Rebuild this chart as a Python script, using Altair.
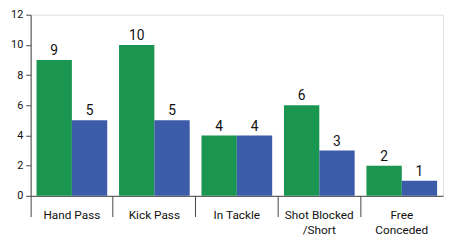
import altair as alt
import pandas as pd

categories = ["Hand Pass", "Kick Pass", "In Tackle", "Shot Blocked|/Short", "Free|Conceded"]
series_names = ["A", "B"]
green_values = [9, 10, 4, 6, 2]
blue_values = [5, 5, 4, 3, 1]
y_ticks = [0, 2, 4, 6, 8, 10, 12]

rows = []
for c, g, b in zip(categories, green_values, blue_values):
    rows.append({"cat": c, "series": "A", "value": g})
    rows.append({"cat": c, "series": "B", "value": b})
df = pd.DataFrame(rows)

FONT = "Roboto"

x = alt.X(
    "cat:N",
    sort=categories,
    title=None,
    scale=alt.Scale(paddingInner=0, paddingOuter=0),
    axis=alt.Axis(
        labelExpr="split(datum.value, '|')",
        labelAngle=0,
        bandPosition=0,
        tickSize=21,
        tickColor="#444444",
        domainColor="#444444",
        labelPadding=-7,
        labelFont=FONT,
        labelFontSize=12,
        labelColor="#111111",
        labelLineHeight=15,
    ),
)
xoff = alt.XOffset("series:N", sort=series_names, scale=alt.Scale(paddingInner=0, paddingOuter=0.167))
y = alt.Y(
    "value:Q",
    title=None,
    scale=alt.Scale(domain=[0, 12], nice=False),
    axis=alt.Axis(
        values=y_ticks,
        grid=False,
        tickSize=5,
        tickColor="#444444",
        domainColor="#444444",
        labelFont=FONT,
        labelFontSize=11,
        labelColor="#111111",
        labelPadding=3,
    ),
)
color = alt.Color(
    "series:N",
    scale=alt.Scale(domain=series_names, range=["#1a9651", "#3c5ba8"]),
    legend=None,
)

bars = alt.Chart(df).mark_bar().encode(x=x, xOffset=xoff, y=y, color=color)
labels = alt.Chart(df).mark_text(dy=-9, font=FONT, fontSize=14, color="#111111").encode(
    x=x, xOffset=xoff, y=y, text="value:Q"
)

chart = (
    alt.layer(bars, labels)
    .properties(
        width=419,
        height=184,
        autosize=alt.AutoSizeParams(type="none"),
        padding={"left": 23, "top": 5, "right": 2, "bottom": 40},
    )
    .configure_view(stroke=None)
    .configure(background="white")
)

chart.save("out.html", embed_options={"renderer": "svg", "actions": False})
